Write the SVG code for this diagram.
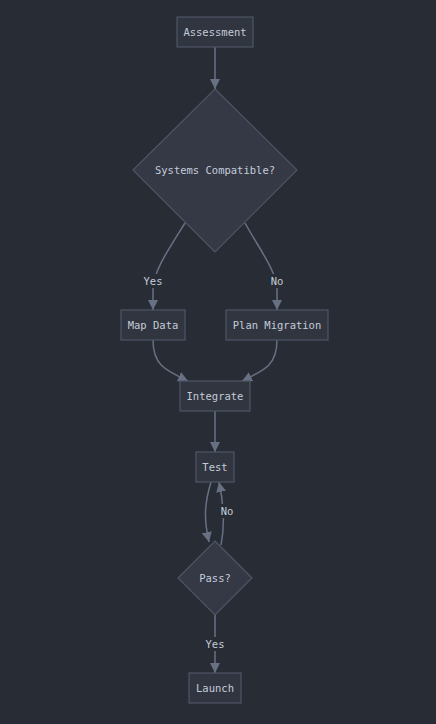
<svg xmlns="http://www.w3.org/2000/svg" width="436" height="724" viewBox="0 0 436 724">
<style>
.bg{fill:#282c34}
.n{fill:#31353f;stroke:#4e5566;stroke-width:1.2}
.d{fill:#353945}
.t{font-family:"DejaVu Sans Mono","Liberation Mono",monospace;font-size:10.5px;fill:#c3ccdb;text-anchor:middle;dominant-baseline:central}
.e{fill:none;stroke:#687184;stroke-width:1.5}
.lb{fill:#282c34}
</style>
<defs>
<marker id="ah" viewBox="0 0 10 10" refX="10" refY="5" markerWidth="10" markerHeight="10" markerUnits="userSpaceOnUse" orient="auto">
<path d="M0,0 L10,5 L0,10 z" fill="#687184"/>
</marker>
</defs>
<rect class="bg" width="436" height="724"/>
<g id="edges">
<path class="e" d="M215,47 L215,89" marker-end="url(#ah)"/>
<path class="e" d="M185,223 C168,250 153,272 153,290 L153,310" marker-end="url(#ah)"/>
<path class="e" d="M245,223 C260,250 277,272 277,290 L277,310" marker-end="url(#ah)"/>
<path class="e" d="M153,340 C153,365 165,370 188,381" marker-end="url(#ah)"/>
<path class="e" d="M277,340 C277,365 265,370 242,381" marker-end="url(#ah)"/>
<path class="e" d="M215,411 L215,452" marker-end="url(#ah)"/>
<path class="e" d="M211,482 C204,505 204,520 209,542" marker-end="url(#ah)"/>
<path class="e" d="M221,545 C225,525 224,505 219,482" marker-end="url(#ah)"/>
<path class="e" d="M215,615 L215,673" marker-end="url(#ah)"/>
<rect class="lb" x="142" y="274" width="22" height="14"/>
<text class="t" x="153" y="281">Yes</text>
<rect class="lb" x="269" y="274" width="16" height="14"/>
<text class="t" x="277" y="281">No</text>
<rect class="lb" x="219" y="504" width="16" height="14"/>
<text class="t" x="227" y="511">No</text>
<rect class="lb" x="204" y="637" width="22" height="14"/>
<text class="t" x="215" y="644">Yes</text>
</g>
<g id="assessment"><rect class="n" x="177" y="17" width="76" height="30"/><text class="t" x="215" y="32">Assessment</text></g>
<g id="compatible"><polygon class="n d" points="215,89 297,170 215,252 133,170"/><text class="t" x="215" y="170">Systems Compatible?</text></g>
<g id="mapdata"><rect class="n" x="121" y="310" width="64" height="30"/><text class="t" x="153" y="325">Map Data</text></g>
<g id="planmigration"><rect class="n" x="226" y="310" width="102" height="30"/><text class="t" x="277" y="325">Plan Migration</text></g>
<g id="integrate"><rect class="n" x="180" y="381" width="70" height="30"/><text class="t" x="215" y="396">Integrate</text></g>
<g id="test"><rect class="n" x="196" y="452" width="38" height="30"/><text class="t" x="215" y="467">Test</text></g>
<g id="pass"><polygon class="n d" points="215,541 252,578 215,615 178,578"/><text class="t" x="215" y="578">Pass?</text></g>
<g id="launch"><rect class="n" x="189" y="673" width="52" height="30"/><text class="t" x="215" y="688">Launch</text></g>
</svg>
